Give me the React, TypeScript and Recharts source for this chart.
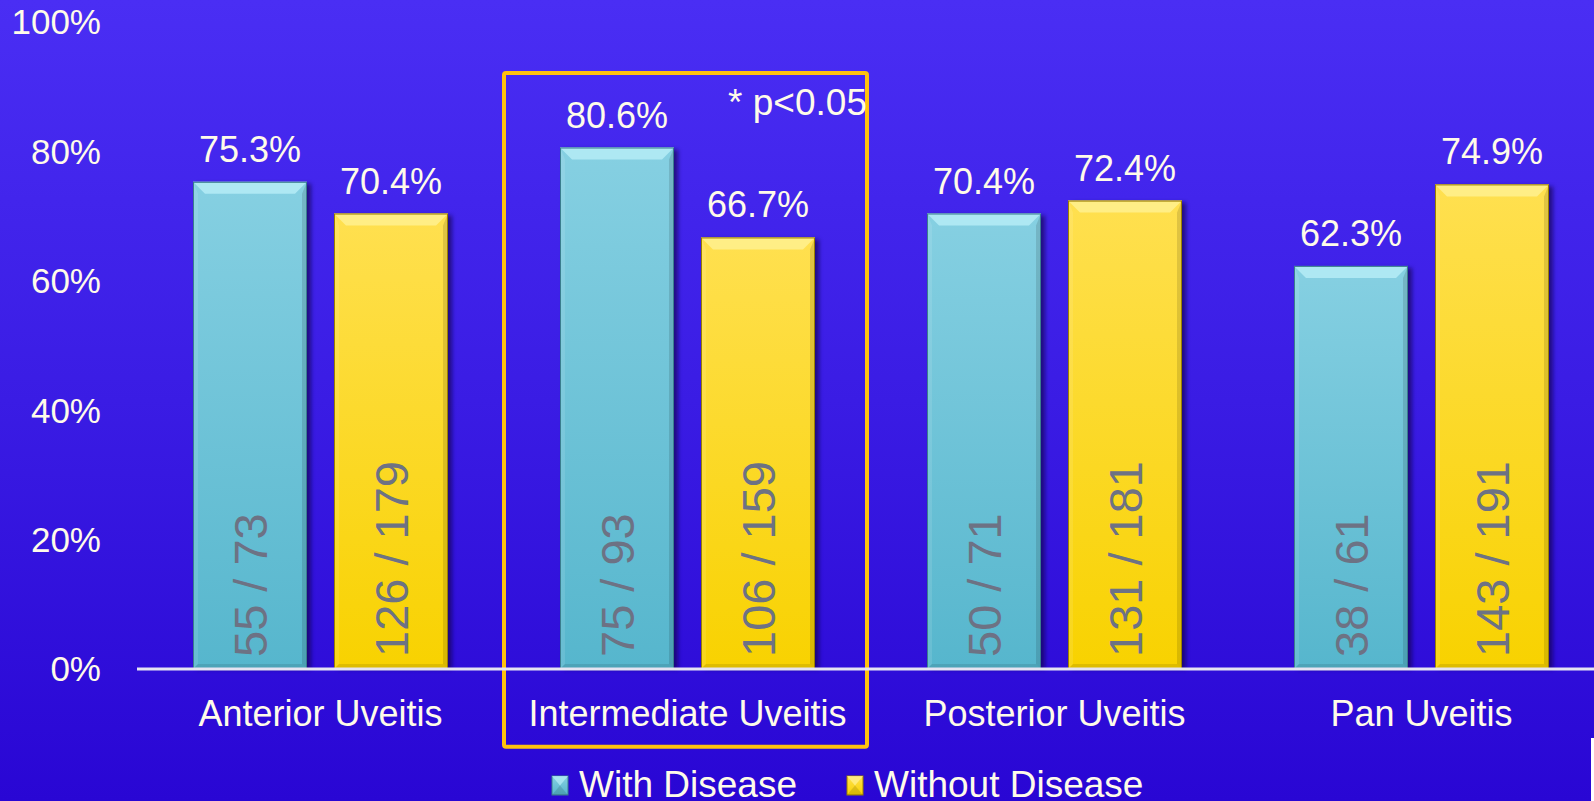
import React from 'react';
import { BarChart, Bar, XAxis, YAxis, LabelList, ReferenceArea, Customized } from 'recharts';

const categories = ['Anterior Uveitis', 'Intermediate Uveitis', 'Posterior Uveitis', 'Pan Uveitis'];
const withDisease = [0.753, 0.806, 0.704, 0.623];
const withoutDisease = [0.704, 0.667, 0.724, 0.749];
const withCounts = ['55 / 73', '75 / 93', '50 / 71', '38 / 61'];
const withoutCounts = ['126 / 179', '106 / 159', '131 / 181', '143 / 191'];
const seriesNames = ['With Disease', 'Without Disease'];
const yTicks = [0, 0.2, 0.4, 0.6, 0.8, 1];
const highlighted = 'Intermediate Uveitis';
const pNote = '* p<0.05';

const data = categories.map((c, i) => ({
  category: c,
  withDisease: withDisease[i],
  withoutDisease: withoutDisease[i],
  withCount: withCounts[i],
  withoutCount: withoutCounts[i],
}));

const FONT = '"Liberation Sans", Arial, Helvetica, sans-serif';
const TEXT = '#fffbe9';
const COUNT_TEXT = '#6d7284';

const palettes: Record<string, any> = {
  cyan: { hi: '#b2eaf5', top: '#86d0e2', bottom: '#56b6cd', edge: '#3a7d8e' },
  yellow: { hi: '#ffef8c', top: '#ffe050', bottom: '#f8d200', edge: '#9a7f00' },
};

const makeBevelBar = (key: string) => (props: any) => {
  const { x, y, width, height } = props;
  if (!height || height <= 0) return <g />;
  const p = palettes[key];
  const b = Math.min(12, height / 2);
  const s = 5;
  return (
    <g>
      <rect x={x + 4} y={y + 2} width={width} height={height - 2} fill="#10033f" opacity={0.6} filter="url(#barBlur)" />
      <rect x={x} y={y} width={width} height={height} fill={`url(#grad-${key})`} />
      <polygon points={`${x},${y} ${x + width},${y} ${x + width - b},${y + b} ${x + b},${y + b}`} fill={p.hi} opacity={0.9} />
      <polygon points={`${x},${y} ${x + s},${y + b} ${x + s},${y + height - s} ${x},${y + height}`} fill="#ffffff" opacity={0.1} />
      <polygon points={`${x + width},${y} ${x + width - s},${y + b} ${x + width - s},${y + height - s} ${x + width},${y + height}`} fill="#000000" opacity={0.12} />
      <polygon points={`${x},${y + height} ${x + s},${y + height - s} ${x + width - s},${y + height - s} ${x + width},${y + height}`} fill="#000000" opacity={0.1} />
      <rect x={x + 0.5} y={y + 0.5} width={width - 1} height={height - 1} fill="none" stroke={p.edge} strokeWidth={1} />
    </g>
  );
};

const valueLabel = (props: any) => {
  const { x, y, width, value } = props;
  return (
    <text x={x + width / 2} y={y - 20} textAnchor="middle" fontSize={36} fill={TEXT} fontFamily={FONT}>
      {(value * 100).toFixed(1) + '%'}
    </text>
  );
};

const countLabel = (props: any) => {
  const { x, y, width, height, value } = props;
  const cx = x + width / 2;
  const y0 = y + height - 12;
  return (
    <text
      x={cx}
      y={y0}
      dy="0.36em"
      transform={`rotate(-90, ${cx}, ${y0})`}
      textAnchor="start"
      fontSize={47}
      fill={COUNT_TEXT}
      fontFamily={FONT}
    >
      {value}
    </text>
  );
};

const YTick = (props: any) => {
  const { y, payload } = props;
  return (
    <text x={101} y={y} dy="0.355em" textAnchor="end" fontSize={35} fill={TEXT} fontFamily={FONT}>
      {Math.round(payload.value * 100) + '%'}
    </text>
  );
};

const XTick = (props: any) => {
  const { x, payload } = props;
  return (
    <text x={x} y={726} textAnchor="middle" fontSize={36} fill={TEXT} fontFamily={FONT}>
      {payload.value}
    </text>
  );
};

const pLabel = (props: any) => {
  const vb = props.viewBox || {};
  return (
    <text x={vb.x + vb.width - 4} y={vb.y + 42} textAnchor="end" fontSize={37} fill={TEXT} fontFamily={FONT}>
      {pNote}
    </text>
  );
};

const boxShape = (props: any) => {
  const { x, y, width, height } = props;
  return (
    <rect x={x} y={y} width={width - 4} height={height} rx={2} ry={2} fill="none" stroke="#ffc20e" strokeWidth={4} />
  );
};

const LegendIcon = ({ x, y, k }: any) => {
  const p = palettes[k];
  const w = 16;
  const h = 19;
  return (
    <g>
      <rect x={x} y={y} width={w} height={h} fill={`url(#grad-${k})`} stroke={p.edge} strokeWidth={1} />
      <polygon points={`${x},${y} ${x + w},${y} ${x + w / 2},${y + h / 2}`} fill={p.hi} opacity={0.8} />
      <polygon points={`${x},${y + h} ${x + w},${y + h} ${x + w / 2},${y + h / 2}`} fill="#000" opacity={0.12} />
    </g>
  );
};

const LegendLayer = () => (
  <g>
    <LegendIcon x={552} y={776} k="cyan" />
    <text x={579} y={797} fontSize={37} fill={TEXT} fontFamily={FONT}>{seriesNames[0]}</text>
    <LegendIcon x={847} y={776} k="yellow" />
    <text x={874} y={797} fontSize={37} fill={TEXT} fontFamily={FONT}>{seriesNames[1]}</text>
  </g>
);

export default function App() {
  return (
    <div
      style={{
        position: 'absolute',
        left: 0,
        top: 0,
        width: 1594,
        height: 801,
        overflow: 'hidden',
        background: 'linear-gradient(to bottom, #4a2ef4 0%, #3a1ce4 50%, #2906d4 100%)',
      }}
    >
      <BarChart
        width={1620}
        height={801}
        data={data}
        margin={{ top: 22, right: 15, left: 0, bottom: 102 }}
        barSize={114}
        barGap={27}
      >
        <defs>
          <linearGradient id="grad-cyan" x1="0" y1="0" x2="0" y2="1">
            <stop offset="0%" stopColor={palettes.cyan.top} />
            <stop offset="100%" stopColor={palettes.cyan.bottom} />
          </linearGradient>
          <linearGradient id="grad-yellow" x1="0" y1="0" x2="0" y2="1">
            <stop offset="0%" stopColor={palettes.yellow.top} />
            <stop offset="100%" stopColor={palettes.yellow.bottom} />
          </linearGradient>
          <filter id="barBlur" x="-20%" y="-20%" width="140%" height="140%">
            <feGaussianBlur stdDeviation="2" />
          </filter>
        </defs>
        <XAxis
          dataKey="category"
          height={30}
          axisLine={{ stroke: '#e6e4f2', strokeWidth: 3 }}
          tickLine={false}
          tick={<XTick />}
          interval={0}
        />
        <YAxis
          width={137}
          domain={[0, 1]}
          ticks={yTicks}
          axisLine={false}
          tickLine={false}
          tick={<YTick />}
          interval={0}
        />
        <Bar dataKey="withDisease" name={seriesNames[0]} isAnimationActive={false} shape={makeBevelBar('cyan')}>
          <LabelList dataKey="withDisease" content={valueLabel} />
          <LabelList dataKey="withCount" content={countLabel} />
        </Bar>
        <Bar dataKey="withoutDisease" name={seriesNames[1]} isAnimationActive={false} shape={makeBevelBar('yellow')}>
          <LabelList dataKey="withoutDisease" content={valueLabel} />
          <LabelList dataKey="withoutCount" content={countLabel} />
        </Bar>
        <ReferenceArea
          x1={highlighted}
          x2={highlighted}
          y1={-0.12}
          y2={0.921}
          ifOverflow="visible"
          shape={boxShape}
          label={pLabel}
        />
        <Customized component={LegendLayer} />
      </BarChart>
      <div style={{ position: 'absolute', left: 1591, top: 738, width: 3, height: 63, background: '#ffffff' }} />
    </div>
  );
}
